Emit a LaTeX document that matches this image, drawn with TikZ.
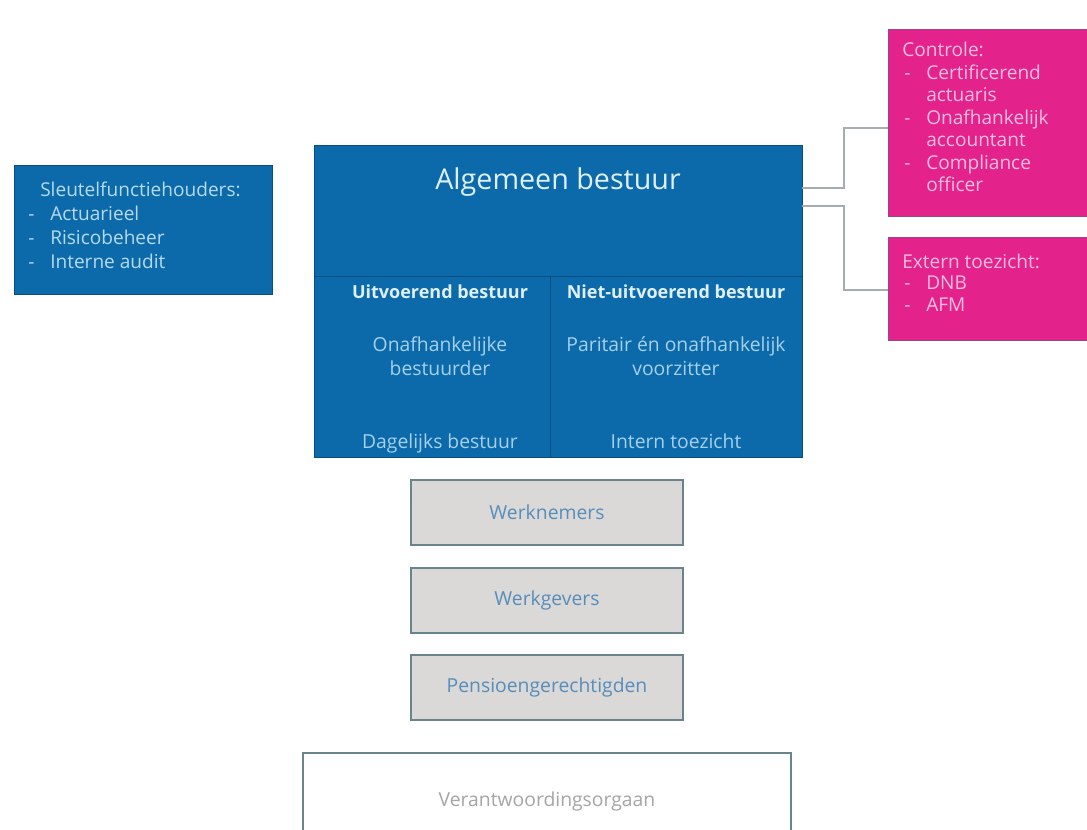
\documentclass[tikz,border=0pt]{standalone}
\usepackage{fontspec}
\setmainfont{Open Sans}
\usetikzlibrary{positioning}

\definecolor{bestuurblauw}{RGB}{12,106,170}
\definecolor{donkerblauw}{RGB}{4,78,130}
\definecolor{toezichtroze}{RGB}{228,34,140}
\definecolor{roosrand}{RGB}{150,70,140}
\definecolor{lichtblauw}{RGB}{222,240,252}
\definecolor{zachtblauw}{RGB}{165,208,238}
\definecolor{lichtroze}{RGB}{248,190,222}
\definecolor{grijsvlak}{RGB}{218,217,215}
\definecolor{grijsrand}{RGB}{105,132,140}
\definecolor{grijsblauw}{RGB}{88,140,186}
\definecolor{lijngrijs}{RGB}{165,172,178}
\definecolor{tekstgrijs}{RGB}{165,165,165}

\tikzset{
  blok/.style={rectangle, inner sep=0pt, outer sep=0pt},
  blauwblok/.style={blok, fill=bestuurblauw, draw=donkerblauw, line width=0.6pt},
  roosblok/.style={blok, fill=toezichtroze, draw=roosrand, line width=0.6pt},
  grijsblok/.style={blok, fill=grijsvlak, draw=grijsrand, line width=1.2pt,
    text=grijsblauw, font=\fontsize{14.5}{17}\selectfont},
  witblok/.style={blok, fill=white, draw=grijsrand, line width=1.2pt},
  lijsttekst/.style={inner sep=0pt, align=left, font=\fontsize{14.3}{18}\selectfont},
  kop/.style={inner sep=0pt, text=lichtblauw, font=\fontsize{13.5}{16}\selectfont\bfseries},
  lichtkop/.style={inner sep=0pt, align=center, text=zachtblauw, font=\fontsize{14.5}{17.3}\selectfont},
  lijn/.style={draw=lijngrijs, line width=1.1pt}
}
\newcommand{\streep}[1]{\makebox[18pt][l]{\hspace{1.5pt}-}#1}
\newcommand{\verder}[1]{\hspace*{18pt}#1}

\begin{document}
\begin{tikzpicture}[x=0.75pt,y=0.75pt,yscale=-1,xscale=1]
\useasboundingbox (0,0) rectangle (1087,830);
\clip (0,0) rectangle (1087,830);

% blokken
\node[blauwblok, minimum width=193.5pt, minimum height=96.75pt] (sleutel) at (143,229.5) {};
\node[blauwblok, minimum width=366pt, minimum height=234pt] (bestuur) at (558,301) {};
\node[roosblok, minimum width=155.25pt, minimum height=140.25pt] (controle) at (991.5,122.5) {};
\node[roosblok, minimum width=155.25pt, minimum height=77.25pt] (extern) at (991.5,288.5) {};
\node[grijsblok, minimum width=204pt, minimum height=48.75pt] (werknemers) at (547,512.5) {Werknemers};
\node[grijsblok, minimum width=204pt, minimum height=48.75pt] (werkgevers) at (547,600.5) {Werkgevers};
\node[grijsblok, minimum width=204pt, minimum height=48.75pt] (pensioen) at (547,687.5) {Pensioengerechtigden};
\node[witblok, minimum width=366pt, minimum height=80pt] (vo) at (547,806.5) {};

% verdeling bestuur
\coordinate (deelL) at (314,276);
\coordinate (deelR) at (802,276);
\coordinate (deelM) at (550,276);
\draw[donkerblauw, line width=0.6pt] (deelL) -- (deelR);
\draw[donkerblauw, line width=0.6pt] (deelM) -- (deelM |- bestuur.south);

% verbindingen
\coordinate (uit1) at (802,188);
\coordinate (uit2) at (802,206);
\coordinate (knik) at (844,0);
\coordinate (in1) at (888,128);
\coordinate (in2) at (888,290);
\draw[lijn] (uit1) -- (uit1 -| knik) |- (in1);
\draw[lijn] (uit2) -- (uit2 -| knik) |- (in2);

% teksten (anker op basislijn van de laatste regel)
\node[lijsttekst, text=zachtblauw!70!lichtblauw, anchor=base west] (sleuteltekst) at (26,269)
  {\hspace*{10.5pt}Sleutelfunctiehouders:\\ \streep{Actuarieel}\\ \streep{Risicobeheer}\\ \streep{Interne audit}};
\node[inner sep=0pt, text=lichtblauw, font=\fontsize{21.5}{24}\selectfont, anchor=base] (algemeen) at (558,190) {Algemeen bestuur};
\node[kop, anchor=base] (uitvoerend) at (440,298) {Uitvoerend bestuur};
\node[kop, anchor=base] (nietuitvoerend) at (676,298) {Niet-uitvoerend bestuur};
\node[lichtkop, anchor=base] (bestuurder) at (440,375) {Onafhankelijke\\bestuurder};
\node[lichtkop, anchor=base] (voorzitter) at (676,375) {Paritair én onafhankelijk\\voorzitter};
\node[lichtkop, anchor=base] (dagelijks) at (440,448) {Dagelijks bestuur};
\node[lichtkop, anchor=base] (intern) at (676,448) {Intern toezicht};
\node[lijsttekst, text=lichtroze, font=\fontsize{14.3}{16.9}\selectfont, anchor=base west] (controletekst) at (902,192)
  {Controle:\\ \streep{Certificerend}\\ \verder{actuaris}\\ \streep{Onafhankelijk}\\ \verder{accountant}\\ \streep{Compliance}\\ \verder{officer}};
\node[lijsttekst, text=lichtroze, font=\fontsize{14.3}{16}\selectfont, anchor=base west] (externtekst) at (902,311)
  {Extern toezicht:\\ \streep{DNB}\\ \streep{AFM}};
\node[inner sep=0pt, text=tekstgrijs, font=\fontsize{14.5}{17}\selectfont, anchor=base] (votekst) at (547,806) {Verantwoordingsorgaan};

\end{tikzpicture}
\end{document}
